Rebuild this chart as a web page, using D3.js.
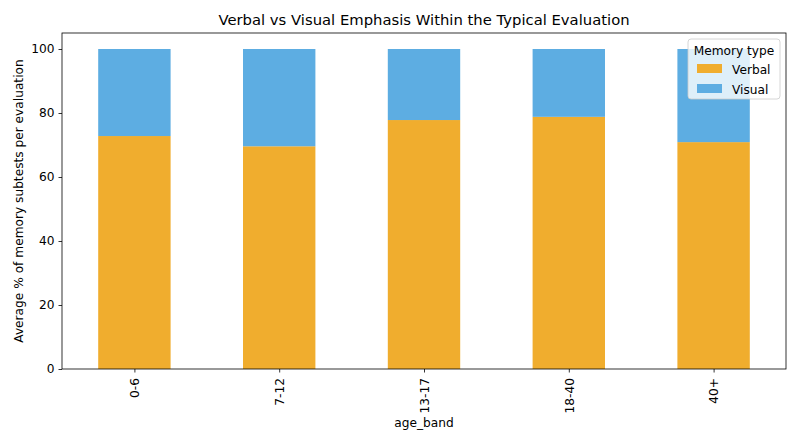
<!DOCTYPE html>
<html>
<head>
<meta charset="utf-8">
<script src="https://cdn.jsdelivr.net/npm/d3@7"></script>
<style>
  body { margin: 0; background: #fff; }
  svg text { font-family: "DejaVu Sans", sans-serif; }
</style>
</head>
<body>
<svg id="chart" width="800" height="444"></svg>
<script>
// data
const ageBands = ['0-6', '7-12', '13-17', '18-40', '40+'];
const verbal = [72.8, 69.6, 77.8, 78.8, 70.9];
const visual = verbal.map(v => 100 - v);
const seriesNames = ['Verbal', 'Visual'];
const yTicks = [0, 20, 40, 60, 80, 100];

const colors = { Verbal: '#F0AD2E', Visual: '#5DADE2' };
const fs = 12.2;

const svg = d3.select('#chart');
const m = { left: 62, right: 14, top: 33, bottom: 75 };
const W = 800, H = 444;
const pw = W - m.left - m.right, ph = H - m.top - m.bottom;

const g = svg.append('g').attr('transform', `translate(${m.left},${m.top})`);

// pandas-style bar positions: xlim -0.5 .. n-0.5, width 0.5
const x = d3.scaleLinear().domain([-0.5, ageBands.length - 0.5]).range([0, pw]);
const y = d3.scaleLinear().domain([0, 105]).range([ph, 0]);

const rows = ageBands.map((b, i) => ({ band: b, i: i, Verbal: verbal[i], Visual: visual[i] }));
const stacked = d3.stack().keys(seriesNames)(rows);

g.selectAll('g.series')
  .data(stacked)
  .join('g')
  .attr('class', 'series')
  .attr('fill', d => colors[d.key])
  .selectAll('rect')
  .data(d => d)
  .join('rect')
  .attr('x', d => x(d.data.i - 0.25))
  .attr('width', x(0.25) - x(-0.25))
  .attr('y', d => y(d[1]))
  .attr('height', d => y(d[0]) - y(d[1]));

// axes
const yAxis = g.append('g')
  .call(d3.axisLeft(y).tickValues(yTicks).tickSize(3.5).tickPadding(4));
const xAxis = g.append('g')
  .attr('transform', `translate(0,${ph})`)
  .call(d3.axisBottom(x).tickValues(d3.range(ageBands.length)).tickFormat(i => ageBands[i]).tickSize(3.5).tickPadding(4));

[yAxis, xAxis].forEach(a => {
  a.select('.domain').remove();
  a.selectAll('line').attr('stroke', '#000').attr('stroke-width', 0.8);
  a.selectAll('text').attr('font-size', fs).attr('fill', '#000').attr('font-family', '"DejaVu Sans", sans-serif');
});

xAxis.selectAll('text')
  .attr('transform', 'rotate(-90)')
  .attr('text-anchor', 'end')
  .attr('dy', '0.35em')
  .attr('x', -9)
  .attr('y', 0);

// frame
g.append('rect')
  .attr('width', pw).attr('height', ph)
  .attr('fill', 'none').attr('stroke', '#000').attr('stroke-width', 0.8);

// labels
svg.append('text')
  .attr('x', m.left + pw / 2).attr('y', 25)
  .attr('text-anchor', 'middle').attr('font-size', 14.8)
  .text('Verbal vs Visual Emphasis Within the Typical Evaluation');

svg.append('text')
  .attr('x', m.left + pw / 2).attr('y', 427)
  .attr('text-anchor', 'middle').attr('font-size', fs)
  .text('age_band');

svg.append('text')
  .attr('transform', `translate(23,${m.top + ph / 2}) rotate(-90)`)
  .attr('text-anchor', 'middle').attr('font-size', fs)
  .text('Average % of memory subtests per evaluation');

// legend
const lg = svg.append('g').attr('transform', 'translate(688,39)');
lg.append('rect')
  .attr('width', 92).attr('height', 60).attr('rx', 3)
  .attr('fill', 'rgba(255,255,255,0.8)').attr('stroke', '#ccc').attr('stroke-width', 0.8);
lg.append('text')
  .attr('x', 46).attr('y', 16).attr('text-anchor', 'middle').attr('font-size', fs)
  .text('Memory type');
seriesNames.forEach((s, i) => {
  const row = lg.append('g').attr('transform', `translate(9,${25 + i * 20})`);
  row.append('rect').attr('width', 25).attr('height', 9).attr('fill', colors[s]);
  row.append('text').attr('x', 35).attr('y', 9.5).attr('font-size', fs).text(s);
});
</script>
</body>
</html>
